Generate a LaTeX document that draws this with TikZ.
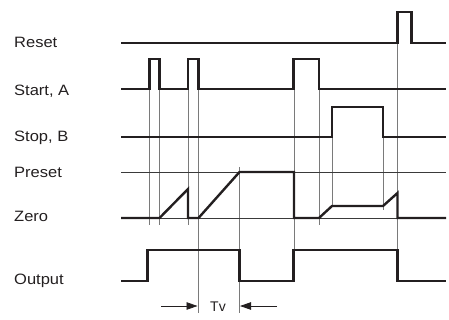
\documentclass[tikz,border=0pt]{standalone}
\usepackage{fontspec}
\setmainfont{Liberation Sans}
\newfontfamily\lblfont[FakeStretch=1.1]{Liberation Sans}
\usetikzlibrary{arrows.meta}
\definecolor{trace}{HTML}{231F20}
\definecolor{guidegray}{HTML}{7A7A7A}
\definecolor{refline}{HTML}{3A3A3A}
\tikzset{
  sig/.style={draw=trace,line width=2.4pt,line join=miter},
  level/.style={draw=refline,line width=0.8pt},
  guide/.style={draw=guidegray,line width=0.8pt},
  lbl/.style={anchor=base west,inner sep=0pt,font=\lblfont\fontsize{15}{17}\selectfont,text=trace},
  tvarr/.style={-{Triangle[length=11pt,width=7.5pt]},draw=trace,line width=0.8pt},
}
\newcommand{\vguide}[3]{% x, top y, bottom y
  \draw[guide] (#1,#2) -- (#1,#3);}

\begin{document}
\begin{tikzpicture}[x=1pt,y=-1pt]
  \useasboundingbox (0,0) rectangle (449,320);
  % signal names
  \node[lbl] (reset) at (14,47.7) {Reset};
  \node[lbl] (start) at (14,95.3) {Start, A};
  \node[lbl] (stop) at (14,142) {Stop, B};
  \node[lbl] (preset) at (14,177.3) {Preset};
  \node[lbl] (zero) at (14,221.7) {Zero};
  \node[lbl] (output) at (14,284) {Output};
  % guide lines
  \vguide{149.5}{89}{225}
  \vguide{159.5}{89}{225}
  \vguide{188}{89}{225}
  \vguide{198.5}{89}{313}
  \vguide{239.5}{167}{313}
  \vguide{294}{89}{250}
  \vguide{319}{89}{225}
  \vguide{332}{137}{206}
  \vguide{383}{137}{210}
  \vguide{397.5}{43}{250}
  % preset and zero levels
  \draw[level] (121,172) -- (446,172);
  \draw[level] (121,218) -- (446,218);
  % traces
  \draw[sig] (121,43) -- (397.5,43) -- (397.5,12) -- (411.5,12) -- (411.5,43) -- (446,43);
  \draw[sig] (121,89) -- (149.5,89) -- (149.5,59) -- (159.5,59) -- (159.5,89)
    -- (188,89) -- (188,59) -- (198.5,59) -- (198.5,89)
    -- (293.5,89) -- (293.5,59) -- (319,59) -- (319,89) -- (446,89);
  \draw[sig] (121,137) -- (332,137) -- (332,107) -- (383,107) -- (383,137) -- (446,137);
  \draw[sig] (121,218) -- (159.5,218) -- (188,189) -- (188,218) -- (198.5,218)
    -- (239.5,172) -- (294,172) -- (294,218) -- (319,218) -- (332,206)
    -- (383,206) -- (397.5,193) -- (397.5,218) -- (446,218);
  \draw[sig] (121,281) -- (147.5,281) -- (147.5,250) -- (239.5,250) -- (239.5,281)
    -- (293.5,281) -- (293.5,250) -- (397.5,250) -- (397.5,281) -- (446,281);
  % delay Tv
  \node[font=\fontsize{14}{16}\selectfont,text=trace] (tv) at (218,307) {Tv};
  \coordinate (tvl) at (161,306);
  \coordinate (tvla) at (197.5,306);
  \coordinate (tvr) at (277,306);
  \coordinate (tvra) at (240,306);
  \draw[tvarr] (tvl) -- (tvla);
  \draw[tvarr] (tvr) -- (tvra);
\end{tikzpicture}
\end{document}
